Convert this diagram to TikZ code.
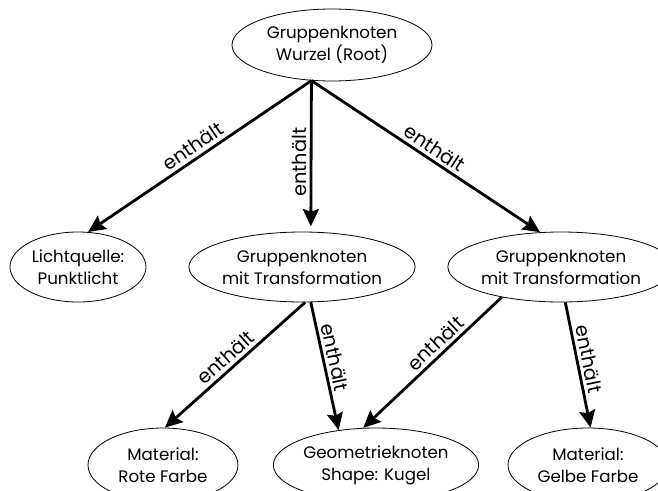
\documentclass[tikz,border=0pt]{standalone}
\usepackage{fontspec}
\setmainfont{Poppins}
\usetikzlibrary{arrows.meta,shapes.geometric}
\begin{document}
\begin{tikzpicture}[x=0.75pt,y=-0.75pt,
  every node/.style={font=\fontsize{12.5pt}{16.5pt}\selectfont},
  knot/.style={ellipse,draw,line width=0.6pt,inner sep=0pt,align=center},
  rel/.style={-{Stealth[length=13pt,width=12pt,inset=2pt]},line width=2.1pt},
  lbl/.style={sloped,above,inner sep=2.5pt,font=\fontsize{14.5pt}{16pt}\selectfont}]
\useasboundingbox (0,0) rectangle (658,490);
\clip (0,0) rectangle (658,490);

% nodes of the scene graph
\node[knot,minimum width=150pt,minimum height=54pt]   (root)  at (332,45)  {Gruppenknoten\\Wurzel (Root)};
\node[knot,minimum width=102pt,minimum height=52.5pt] (licht) at (78,267)  {Lichtquelle:\\Punktlicht};
\node[knot,minimum width=148.5pt,minimum height=52.5pt] (trA) at (302,267) {Gruppenknoten\\mit Transformation};
\node[knot,minimum width=144pt,minimum height=52.5pt] (trB)   at (561,267) {Gruppenknoten\\mit Transformation};
\node[knot,minimum width=112.5pt,minimum height=55.5pt] (rot) at (163,465) {Material:\\Rote Farbe};
\node[knot,minimum width=148.5pt,minimum height=55.5pt] (geo) at (376,465) {Geometrieknoten\\Shape: Kugel};
\node[knot,minimum width=120pt,minimum height=55.5pt] (gelb)  at (588,465) {Material:\\Gelbe Farbe};

% containment edges
\draw[rel] (root.240) -- node[lbl,pos=0.5]  {enthält} (licht.74);
\draw[rel,shorten >=4pt] (root.240) -- node[lbl,pos=0.54] {enthält} (trA.76);
\draw[rel] (root.240) -- node[lbl,pos=0.51] {enthält} (trB.121);
\draw[rel] (trA.275) -- node[lbl,pos=0.51] {enthält} (rot.87);
\draw[rel] (trA.284) -- node[lbl,pos=0.45] {enthält} (geo.137);
\draw[rel] (trB.207) -- node[lbl,pos=0.42] {enthält} (geo.109);
\draw[rel] (trB.277) -- node[lbl,pos=0.47] {enthält} (gelb.86);
\end{tikzpicture}
\end{document}
